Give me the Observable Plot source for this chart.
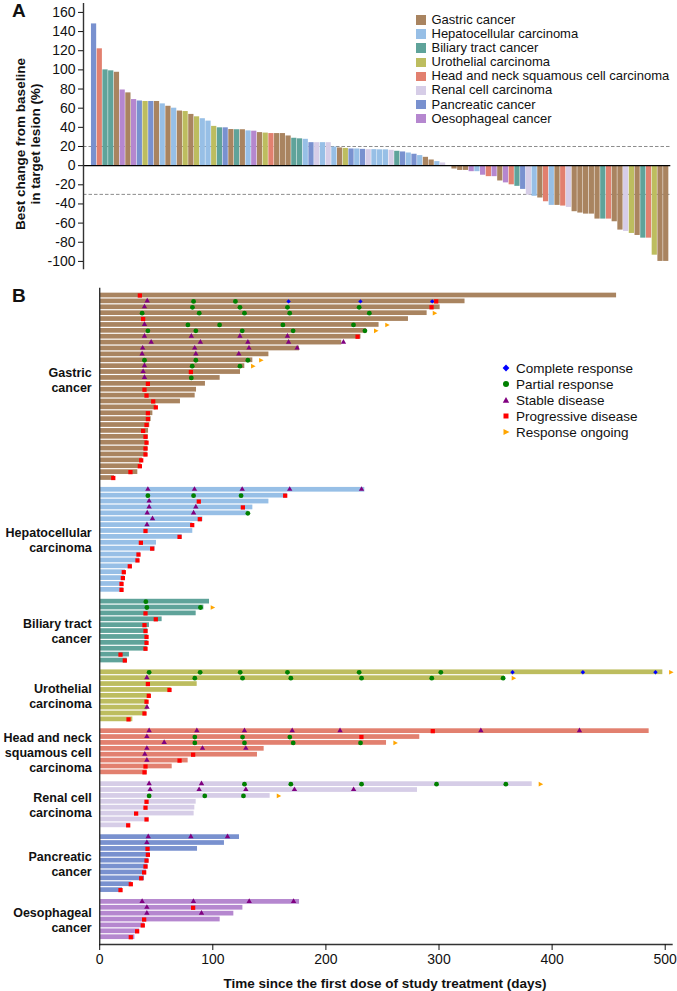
<!DOCTYPE html>
<html><head><meta charset="utf-8">
<script src="https://cdn.jsdelivr.net/npm/d3@7"></script>
<script src="https://cdn.jsdelivr.net/npm/@observablehq/plot@0.6"></script>
<style>
body{margin:0;background:#fff;font-family:"Liberation Sans",Arial,sans-serif;color:#111;}
#wrap{position:relative;width:677px;height:991px;overflow:hidden;background:#fff;}
.plab{position:absolute;font-weight:bold;font-size:19px;}
.leg{position:absolute;font-size:13px;line-height:14.1px;}
.leg .row{display:flex;align-items:center;height:14.1px;white-space:nowrap;}
.leg .sw{width:9.5px;height:9.5px;margin-right:6px;flex:none;}
.legB{position:absolute;font-size:13.5px;}
.legB .row{display:flex;align-items:center;height:16px;white-space:nowrap;}
.legB svg{flex:none;margin-right:4px;}
.ytitle{position:absolute;font-weight:bold;font-size:13.5px;line-height:14.5px;text-align:center;white-space:nowrap;transform:translate(-50%,-50%) rotate(-90deg);}
.xtitle{position:absolute;font-weight:bold;font-size:13.5px;white-space:nowrap;transform:translate(-50%,-50%);}
</style></head><body><div id="wrap"></div>
<script>
// ---------- shared categories ----------
const cancerTypes = ["Gastric cancer","Hepatocellular carcinoma","Biliary tract cancer","Urothelial carcinoma","Head and neck squamous cell carcinoma","Renal cell carcinoma","Pancreatic cancer","Oesophageal cancer"];
const cancerCodes = ["G","H","B","U","N","R","P","O"];
const cancerColors = ["#a98460","#97bfe6","#5fa39a","#bdbd5f","#e2806f","#d6cde7","#7991cf","#b587cf"];
const groupLabels = ["Gastric\ncancer","Hepatocellular\ncarcinoma","Biliary tract\ncancer","Urothelial\ncarcinoma","Head and neck\nsquamous cell\ncarcinoma","Renal cell\ncarcinoma","Pancreatic\ncancer","Oesophageal\ncancer"];
const groupLabelShift = [-7,0,0,0,0,0,0,0];

// ---------- panel A: waterfall ----------
const waterfallType = ["P","N","B","B","G","O","G","O","P","U","P","G","H","G","H","G","U","G","U","H","H","U","B","P","G","B","G","H","O","G","U","N","G","G","G","B","B","H","P","R","H","R","H","G","U","P","H","P","R","H","H","H","R","B","P","H","P","H","G","G","H","R","G","G","G","G","O","H","O","N","O","G","O","N","B","P","R","H","G","N","H","G","N","R","G","G","G","G","G","B","N","G","G","R","U","G","B","N","U","G","G"];
const waterfallChange = [148,122,100,99,97.5,79,76,69,67.5,67,67,67,64.5,62,60,57,56.5,53.5,51,49,46.5,41,39.5,39.5,37.7,37.5,37.5,36.3,36,34.5,34,33.5,33.5,33.5,31,28.6,28,27.5,24,24,24,24,19.5,18.5,18,17.4,17.4,17,16.7,16.7,16.5,16.5,16,15,14.3,13.2,11.9,10.5,8.7,5.9,4.2,2.8,0,-3.5,-5,-5,-6.3,-6.3,-10,-11.5,-11.5,-16,-18,-20,-21.6,-24.8,-30.7,-32,-33.8,-37.7,-41.5,-41.5,-42.2,-43.6,-48.1,-49.5,-50.6,-50.6,-55.8,-55.8,-55.8,-58.6,-67.3,-68.7,-70.8,-72.9,-75.7,-75.7,-93.5,-100,-100];
const waterfallTicks = [-100,-80,-60,-40,-20,0,20,40,60,80,100,120,140,160];
const thresholds = [20,-30];

// ---------- panel B: swimmer rows [end day, [[day, response], ...]] ----------
const gastricRows = [
 [457,[[35.5,"PD"]]],
 [323,[[42,"SD"],[83,"PR"],[120,"PR"],[167,"CR"],[230.5,"CR"],[294,"CR"],[297.5,"PD"]]],
 [301,[[39.6,"SD"],[82,"PR"],[124,"PR"],[166,"PR"],[229.4,"PR"],[293.4,"PD"]]],
 [289.5,[[37.5,"PR"],[88,"PR"],[128,"PR"],[168,"PR"],[238.4,"PR"],[296.3,"RO"]]],
 [273,[[38.4,"PD"]]],
 [247,[[39.6,"SD"],[78,"PR"],[106,"PR"],[162,"PR"],[224.4,"PR"],[254.3,"RO"]]],
 [236,[[42.6,"PR"],[85,"PR"],[126,"PR"],[171,"PR"],[234.5,"PR"],[244.4,"RO"]]],
 [231,[[39.6,"SD"],[81,"SD"],[124,"SD"],[166,"SD"],[228,"PD"]]],
 [214,[[45.5,"SD"],[89,"SD"],[131,"SD"],[167,"SD"],[215.5,"SD"]]],
 [176.7,[[38,"SD"],[84,"SD"],[132,"SD"],[174.6,"SD"]]],
 [149.6,[[37.5,"SD"],[85,"SD"],[123,"SD"]]],
 [135.4,[[39.6,"PR"],[85,"PR"],[131,"PR"],[142.8,"RO"]]],
 [128.3,[[39.6,"SD"],[81.8,"PR"],[124,"PR"],[135.7,"RO"]]],
 [124.5,[[38.4,"SD"],[80.6,"PD"]]],
 [106.5,[[39.6,"SD"],[81,"PR"]]],
 [93.5,[[42.6,"PD"]]],
 [85.6,[[39.6,"PD"]]],
 [84.4,[[41.4,"PD"]]],
 [71.4,[[47.3,"PD"]]],
 [50,[[49.6,"PD"]]],
 [47,[[42.6,"PD"]]],
 [45.5,[[42.6,"PD"]]],
 [44.3,[[41.4,"PD"]]],
 [43.2,[[38.4,"PD"]]],
 [42.9,[[40.5,"PD"]]],
 [42.6,[[41.4,"PD"]]],
 [42.6,[[40.5,"PD"]]],
 [42,[[40.5,"PD"]]],
 [37.8,[[36.7,"PD"]]],
 [36.7,[[35.5,"PD"]]],
 [33.7,[[27.2,"PD"]]],
 [13.1,[[12,"PD"]]]
];
const hepatoRows = [
 [234.4,[[42.6,"SD"],[83.8,"SD"],[126,"SD"],[168,"SD"],[231.5,"SD"]]],
 [165.8,[[42.6,"PR"],[83,"PR"],[125,"PR"],[164,"PD"]]],
 [149.6,[[43.7,"SD"],[87.6,"PD"]]],
 [135.4,[[43.7,"SD"],[85,"SD"],[126.6,"PD"]]],
 [131.9,[[42,"SD"],[83,"SD"],[131,"PR"]]],
 [91.2,[[46.7,"SD"],[88.5,"PD"]]],
 [82.3,[[41.8,"SD"],[81.8,"PD"]]],
 [82.3,[[40.5,"PD"]]],
 [72.9,[[70.6,"PD"]]],
 [50.2,[[36.4,"PD"]]],
 [49,[[46.4,"PD"]]],
 [36.1,[[34.3,"PD"]]],
 [35.2,[[33.4,"PD"]]],
 [28.7,[[26.6,"PD"]]],
 [22.8,[[21.3,"PD"]]],
 [21.9,[[20.5,"PD"]]],
 [20.8,[[19.3,"PD"]]],
 [20.8,[[19.3,"PD"]]]
];
const biliaryRows = [
 [97.1,[[40.8,"PR"]]],
 [92.1,[[41.7,"PR"],[89.1,"PR"],[100,"RO"]]],
 [85.3,[[40.5,"PD"]]],
 [55.2,[[49.6,"PD"]]],
 [44,[[39.6,"PD"]]],
 [42.6,[[40.5,"PD"]]],
 [42.6,[[41.4,"PD"]]],
 [42.6,[[41.4,"PD"]]],
 [42,[[40.5,"PD"]]],
 [26.3,[[18.4,"PD"]]],
 [24.3,[[22.2,"PD"]]]
];
const urothelialRows = [
 [497.9,[[43.7,"PR"],[88.8,"PR"],[124.2,"PR"],[166,"PR"],[229.4,"PR"],[301.6,"PR"],[365,"CR"],[427.2,"CR"],[491.4,"CR"],[505.3,"RO"]]],
 [357.9,[[41.7,"SD"],[84.1,"PR"],[126.3,"PR"],[169,"PR"],[231.5,"PR"],[293.6,"PR"],[356.7,"PR"],[366.1,"RO"]]],
 [86.2,[[42.6,"PD"]]],
 [63.2,[[61.7,"PD"]]],
 [45.2,[[43.4,"PD"]]],
 [42.6,[[41.4,"PD"]]],
 [42.6,[[41.8,"SD"]]],
 [41.1,[[39.6,"PD"]]],
 [29.3,[[25.5,"PD"]]]
];
const headNeckRows = [
 [485.8,[[43.7,"SD"],[85.9,"SD"],[128,"SD"],[170.2,"SD"],[212.5,"SD"],[294.5,"PD"],[337,"SD"],[424.2,"SD"]]],
 [283,[[41.7,"SD"],[84.1,"PR"],[126.3,"PR"],[168.1,"PR"],[231.4,"PD"]]],
 [253.6,[[57,"SD"],[84.1,"PR"],[128,"PR"],[171.1,"PR"],[230.6,"PR"],[261.5,"RO"]]],
 [145.4,[[41.7,"SD"],[90.9,"SD"],[129.2,"SD"]]],
 [139.5,[[39.9,"SD"],[82.6,"PD"]]],
 [78.2,[[41.7,"SD"],[70.6,"PD"]]],
 [64.1,[[40.5,"PD"]]],
 [42,[[39.6,"PD"]]]
];
const renalRows = [
 [382.4,[[43.7,"SD"],[90,"SD"],[128,"PR"],[169,"PR"],[231.5,"PR"],[297.8,"PR"],[359.1,"PR"],[390,"RO"]]],
 [281,[[44.6,"SD"],[87.9,"SD"],[129.2,"SD"],[172.2,"SD"],[224.5,"SD"]]],
 [150.7,[[43.7,"PR"],[92.9,"PR"],[127.1,"PR"],[158.4,"RO"]]],
 [85.3,[[41.4,"PD"]]],
 [84.1,[[40.5,"PD"]]],
 [83.5,[[32.2,"PD"]]],
 [43.7,[[41.4,"PD"]]],
 [27.2,[[25.2,"PD"]]]
];
const pancreaticRows = [
 [123.6,[[42.9,"SD"],[80.6,"SD"],[113,"SD"]]],
 [110.3,[[41.7,"SD"]]],
 [86.5,[[42.3,"PD"]]],
 [44.6,[[42.6,"PD"]]],
 [43.4,[[41.4,"PD"]]],
 [42.6,[[40.5,"PD"]]],
 [41.4,[[39.3,"PD"]]],
 [39.6,[[36.7,"PD"]]],
 [28.4,[[27.5,"PD"]]],
 [20.2,[[18.4,"PD"]]]
];
const oesophagealRows = [
 [176.7,[[37.5,"SD"],[82.9,"SD"],[132.2,"SD"],[171.4,"SD"]]],
 [126.6,[[41.7,"SD"],[82.6,"PD"]]],
 [118.6,[[41.7,"SD"],[90,"SD"]]],
 [106.5,[[39.3,"PD"]]],
 [39.6,[[38.1,"PD"]]],
 [35.2,[[33.1,"PD"]]],
 [31.1,[[27.5,"PD"]]]
];
const responseCodes = ["CR","PR","SD","PD","RO"];
const responseNames = ["Complete response","Partial response","Stable disease","Progressive disease","Response ongoing"];
const responseColors = ["#0000ff","#008000","#800080","#ff0000","#ffa500"];
const dayTicks = [0,100,200,300,400,500];

// ---------- build ----------
const wrap = document.getElementById("wrap");
const FONT = '"Liberation Sans", Arial, sans-serif';

const wfData = waterfallChange.map((v,i)=>({i:i+1, v, t:waterfallType[i]}));

const plotA = Plot.plot({
  width: 677, height: 275,
  marginLeft: 83, marginRight: 6.7, marginTop: 3.3, marginBottom: 7,
  style: {fontFamily: FONT, fontSize: "14px", color: "#111", background: "transparent"},
  x: {domain: [-1.346, 101.3], axis: null},
  y: {domain: [-107.4, 169], axis: null},
  color: {domain: cancerCodes, range: cancerColors},
  marks: [
    Plot.ruleY(thresholds, {stroke: "#8c8c8c", strokeWidth: 1, strokeDasharray: "3.5,2"}),
    Plot.rect(wfData, {x1: d => d.i - 1, x2: "i", y1: 0, y2: "v", fill: "t", insetLeft: 0.25, insetRight: 0.25}),
    Plot.ruleY([0], {stroke: "#000", strokeWidth: 1.4}),
    Plot.frame({anchor: "left", stroke: "#333", strokeWidth: 1.4}),
    Plot.axisY({ticks: waterfallTicks, tickSize: 5, tickPadding: 3, label: null, tickFormat: d => String(d)})
  ]
});
plotA.style.position = "absolute"; plotA.style.left = "0px"; plotA.style.top = "0px";
wrap.appendChild(plotA);

// Panel B rows
const groupsB = [gastricRows, hepatoRows, biliaryRows, urothelialRows, headNeckRows, renalRows, pancreaticRows, oesophagealRows];
const rowsB = [], eventsB = [], labelsB = [];
let slot = 0;
groupsB.forEach((rows, gi) => {
  const start = slot;
  rows.forEach(([end, evs]) => {
    rowsB.push({slot, end, t: cancerCodes[gi]});
    evs.forEach(([day, code]) => eventsB.push({slot, day, code}));
    slot++;
  });
  labelsB.push({y: (start + slot - 1) / 2, text: groupLabels[gi], dy: groupLabelShift[gi]});
  slot++;
});

const arrowSymbol = {draw(ctx, size) {
  const s = Math.sqrt(size / Math.PI);
  ctx.moveTo(-s, -s * 1.1); ctx.lineTo(s * 1.15, 0); ctx.lineTo(-s, s * 1.1); ctx.closePath();
}};
const symbolFor = {CR: "diamond2", PR: "circle", SD: "triangle", PD: "square", RO: arrowSymbol};
const rFor = {CR: 2.0, PR: 2.4, SD: 2.0, PD: 2.4, RO: 2.1};

const dotMarks = responseCodes.map((c, k) => Plot.dot(eventsB.filter(e => e.code === c), {
  x: "day", y: "slot", symbol: symbolFor[c], r: rFor[c], fill: responseColors[k], stroke: "none",
  dy: c === "SD" ? -0.5 : 0
}));

const labelMarks = labelsB.map(l => Plot.text([l], {x: 0, y: "y", text: "text", textAnchor: "end", dx: -8, dy: l.dy, fontWeight: "bold", fontSize: 12.5, lineHeight: 1.2, fill: "#111"}));

const plotB = Plot.plot({
  width: 677, height: 711,
  marginLeft: 99.2, marginRight: 5.5, marginTop: 8, marginBottom: 47,
  style: {fontFamily: FONT, fontSize: "14px", color: "#111", background: "transparent", overflow: "visible"},
  x: {domain: [0, 506], axis: null},
  y: {domain: [-1.19, 110.24], reverse: true, axis: null},
  color: {domain: cancerCodes, range: cancerColors},
  marks: [
    Plot.rect(rowsB, {x1: 0, x2: "end", y1: d => d.slot - 0.4, y2: d => d.slot + 0.4, fill: "t"}),
    ...dotMarks,
    Plot.frame({anchor: "left", stroke: "#333", strokeWidth: 1.4}),
    Plot.frame({anchor: "bottom", stroke: "#333", strokeWidth: 1.4}),
    Plot.axisX({ticks: dayTicks, tickSize: 6, tickPadding: 4, label: null}),
    ...labelMarks
  ]
});
plotB.style.position = "absolute"; plotB.style.left = "0px"; plotB.style.top = "280px";
wrap.appendChild(plotB);

// Panel labels and titles
function addDiv(cls, html, css) {
  const d = document.createElement("div");
  d.className = cls; d.innerHTML = html; Object.assign(d.style, css); wrap.appendChild(d); return d;
}
addDiv("plab", "A", {left: "12px", top: "0px"});
addDiv("plab", "B", {left: "12px", top: "285px"});
addDiv("ytitle", "Best change from baseline<br>in target lesion (%)", {left: "28px", top: "144px"});
addDiv("xtitle", "Time since the first dose of study treatment (days)", {left: "385px", top: "983px"});

// Legend A
const legA = addDiv("leg", "", {left: "416px", top: "13px"});
cancerTypes.forEach((name, i) => {
  const r = document.createElement("div"); r.className = "row";
  r.innerHTML = `<span class="sw" style="background:${cancerColors[i]}"></span><span>${name}</span>`;
  legA.appendChild(r);
});

// Legend B
const legB = addDiv("legB", "", {left: "500px", top: "360px"});
const symPaths = {
  CR: "M5,1.6 L8.4,5 L5,8.4 L1.6,5 Z",
  SD: "M5,2 L8.2,7.8 L1.8,7.8 Z",
  PD: "M2.5,2.5 H7.5 V7.5 H2.5 Z",
  RO: "M2.5,2 L8.5,5 L2.5,8 Z"
};
responseCodes.forEach((c, k) => {
  const r = document.createElement("div"); r.className = "row";
  const shape = c === "PR" ? `<circle cx="5" cy="5" r="3" fill="${responseColors[k]}"/>` : `<path d="${symPaths[c]}" fill="${responseColors[k]}"/>`;
  r.innerHTML = `<svg width="12" height="10" viewBox="0 0 10 10">${shape}</svg><span>${responseNames[k]}</span>`;
  legB.appendChild(r);
});
</script></body></html>
